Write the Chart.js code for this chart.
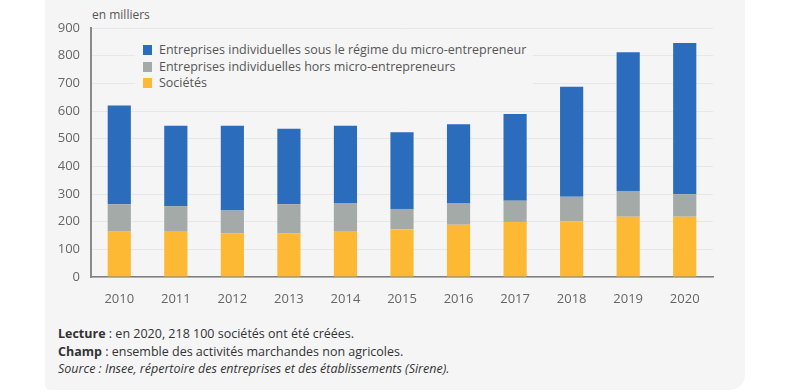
<!DOCTYPE html>
<html>
<head>
<meta charset="utf-8">
<script src="https://cdn.jsdelivr.net/npm/chart.js@4"></script>
<style>
  body { margin: 0; background: #fff; font-family: "Open Sans", sans-serif; }
  .card {
    position: absolute; left: 45px; top: -10px; width: 700px; height: 400px;
    background: #f5f5f6; border-radius: 0 0 15px 5px;
  }
  .unit { position: absolute; left: 92px; top: 6px; font-size: 12px; color: #555; }
  .wrap { position: absolute; left: 45px; top: 0; width: 700px; height: 310px; }
  .legend {
    position: absolute; left: 135px; top: 39px; width: 398px; height: 54px;
    background: #f5f5f6; font-size: 12.5px; color: #555;
  }
  .legend div { position: absolute; left: 8px; height: 17px; line-height: 17px; white-space: nowrap; }
  .legend span { display: inline-block; width: 9px; height: 10px; margin-right: 7px; vertical-align: -1px; }
  .notes { position: absolute; left: 58px; top: 325px; font-size: 12.5px; color: #333; line-height: 17.5px; }
</style>
</head>
<body>
<div class="card"></div>
<div class="unit">en milliers</div>
<div class="wrap"><canvas id="chart"></canvas></div>
<div class="legend" id="legend"></div>
<div class="notes">
  <div><b>Lecture</b> : en 2020, 218 100 sociétés ont été créées.</div>
  <div><b>Champ</b> : ensemble des activités marchandes non agricoles.</div>
  <div><i>Source : Insee, répertoire des entreprises et des établissements (Sirene).</i></div>
</div>
<script>
const years = ['2010', '2011', '2012', '2013', '2014', '2015', '2016', '2017', '2018', '2019', '2020'];
const societes = [164, 166, 158, 158, 166, 172, 189, 199, 201, 218, 218];
const horsMicro = [99, 90, 82, 105, 100, 74, 77, 77, 89, 93, 81];
const micro = [357, 291, 307, 273, 281, 277, 286, 313, 398, 501, 547];

const labels = {
    micro: 'Entreprises individuelles sous le régime du micro-entrepreneur',
    hors: 'Entreprises individuelles hors micro-entrepreneurs',
    soc: 'Sociétés',
};

const chart = new Chart(document.getElementById('chart'), {
    type: 'bar',
    data: {
        labels: years,
        datasets: [
            { label: labels.soc, data: societes, backgroundColor: '#fdb933' },
            { label: labels.hors, data: horsMicro, backgroundColor: '#a3aaa7' },
            { label: labels.micro, data: micro, backgroundColor: '#2b6dbc' },
        ],
    },
    options: {
        responsive: true,
        maintainAspectRatio: false,
        animation: false,
        layout: { padding: { top: 28, right: 32, bottom: 3, left: 0 } },
        datasets: { bar: { categoryPercentage: 1, barPercentage: 0.41 } },
        plugins: { legend: { display: false }, tooltip: { enabled: false } },
        scales: {
            x: {
                stacked: true,
                grid: { display: false, drawTicks: false },
                border: { color: '#7d7d7d', width: 1.5 },
                ticks: { color: '#666', padding: 14, font: { family: 'Open Sans', size: 13 } },
                afterFit: function(s) { s.height = 30; },
            },
            y: {
                stacked: true,
                min: 0,
                max: 900,
                grid: { color: '#e7e7e8', drawTicks: false },
                border: { color: '#8a8a8a', width: 2 },
                ticks: { stepSize: 100, color: '#666', padding: 11, font: { family: 'Open Sans', size: 13 } },
                afterFit: function(s) { s.width = 46; },
            },
        },
    },
});

// legend built from the datasets, in reverse (top of stack first)
const legend = document.getElementById('legend');
chart.data.datasets.slice().reverse().forEach(function(ds, i) {
    const row = document.createElement('div');
    row.style.top = (2 + i * 16.5) + 'px';
    row.innerHTML = '<span style="background:' + ds.backgroundColor + '"></span>' + ds.label;
    legend.appendChild(row);
});
</script>
</body>
</html>
